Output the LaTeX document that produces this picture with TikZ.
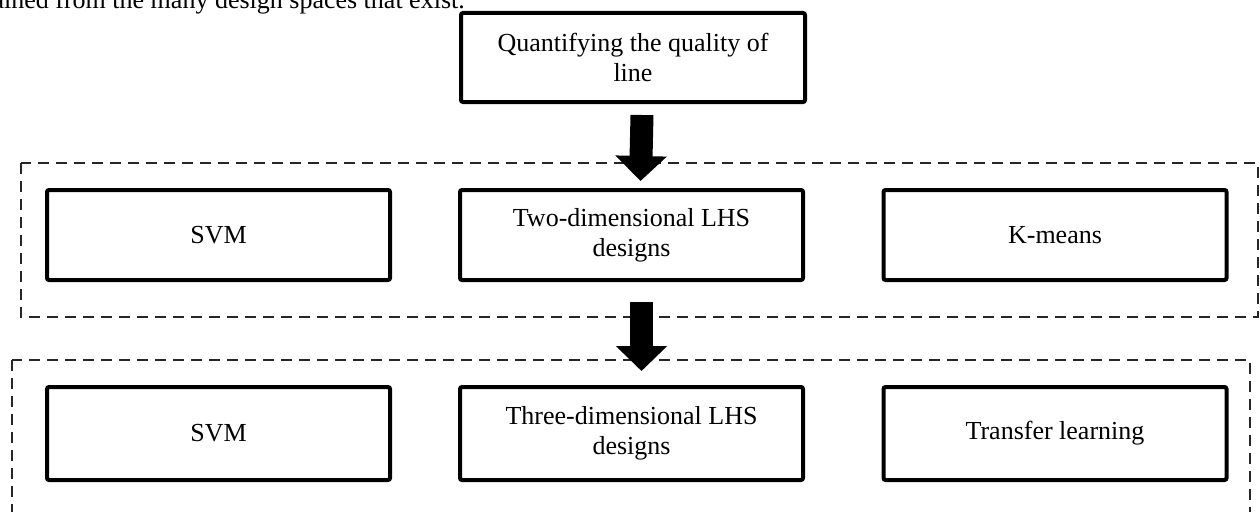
\documentclass[tikz,border=0pt]{standalone}
\usepackage{fontspec}
\setmainfont{Liberation Serif}
\usetikzlibrary{arrows.meta}
\tikzset{
  stagebox/.style={draw=black, line width=4pt, rounded corners=2pt, fill=white,
    minimum width=343pt, minimum height=90pt, align=center, inner sep=0pt,
    font=\fontsize{26pt}{30pt}\selectfont},
  groupframe/.style={draw=black!85, line width=1.3pt, dash pattern=on 11pt off 7pt},
  blockarrow/.style={line width=23pt, -{Triangle[length=25pt,width=50pt]}},
}
\begin{document}
\begin{tikzpicture}[x=1pt,y=-1pt]
  \useasboundingbox (0,0) rectangle (1260,511);
  \clip (0,0) rectangle (1260,511);

  % tail of the preceding paragraph
  \node[anchor=base east, inner sep=0pt, font=\fontsize{26pt}{30pt}\selectfont] (prev) at (465,8.5)
    {ained from the many design spaces that exist.};

  % group frames
  \draw[groupframe] (21,163) rectangle (1258,317);
  \draw[groupframe] (12,360) rectangle (1250,540);

  % first stage
  \node[stagebox, minimum width=344pt, minimum height=89pt] (q) at (633,57.5)
    {Quantifying the quality of\\line};

  % second stage
  \node[stagebox] (svmA) at (218.5,235) {SVM};
  \node[stagebox] (two)  at (631.5,235) {Two-dimensional LHS\\designs};
  \node[stagebox] (km)   at (1055,235) {K-means};

  % third stage
  \node[stagebox, minimum height=93pt] (svmB)  at (218.5,433.5) {SVM};
  \node[stagebox, minimum height=93pt] (three) at (631.5,433.5) {Three-dimensional LHS\\designs};
  \node[stagebox, minimum height=93pt] (tl)    at (1055,433.5) {Transfer learning};

  % flow arrows
  \draw[blockarrow] ([xshift=9pt,yshift=-11pt]q.south) -- ([xshift=9pt,yshift=7pt]two.north);
  \draw[blockarrow] ([xshift=10pt,yshift=-20pt]two.south) -- ([xshift=10pt,yshift=14pt]three.north);
\end{tikzpicture}
\end{document}
